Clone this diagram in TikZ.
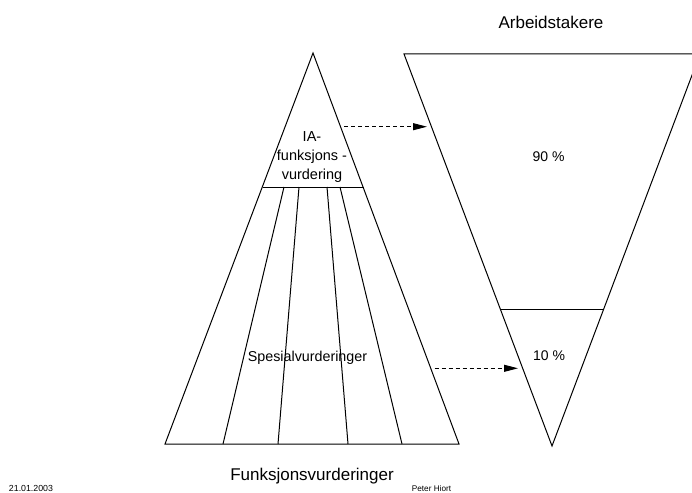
\documentclass[tikz,border=0pt]{standalone}
\usepackage{fontspec}
\setmainfont{Liberation Sans}
\usetikzlibrary{arrows.meta}
\begin{document}
\begin{tikzpicture}[x=1pt,y=-1pt,
  shape line/.style={line width=1pt, line join=miter},
  flow/.style={line width=0.9pt, dash pattern=on 4pt off 3pt, -{Triangle[length=14pt,width=7pt]}},
  lbl/.style={inner sep=0pt, anchor=base},
]
\useasboundingbox (0,0) rectangle (692,492);
\clip (0,0) rectangle (692,492);
% left pyramid
\coordinate (apex) at (313,53);
\coordinate (bl) at (165,444);
\coordinate (br) at (459,444);
\coordinate (ml) at (262.5,187);
\coordinate (mr) at (363.5,187);
\draw[shape line] (apex) -- (br) -- (bl) -- cycle;
\draw[shape line] (ml) -- (mr);
\draw[shape line] (284,187) -- (223,444);
\draw[shape line] (299,187) -- (278,444);
\draw[shape line] (327,187) -- (348,444);
\draw[shape line] (340,187) -- (402,444);
% right inverted triangle
\coordinate (tl) at (404,54);
\coordinate (tr) at (700,54);
\coordinate (bot) at (552,446);
\draw[shape line] (tl) -- (tr) -- (bot) -- cycle;
\draw[shape line] (500.5,309.5) -- (603.5,309.5);
% texts
\node[lbl, font=\fontsize{14.5}{19}\selectfont, align=center] (ia) at (312,179) {IA-\\funksjons -\\vurdering};
\node[lbl, font=\fontsize{14.3}{17}\selectfont] (spes) at (307.5,361) {Spesialvurderinger};
\node[lbl, font=\fontsize{14}{17}\selectfont] (p90) at (548.5,161.5) {90 \%};
\node[lbl, font=\fontsize{14}{17}\selectfont] (p10) at (549,360.5) {10 \%};
\node[lbl, font=\fontsize{17}{20}\selectfont] (arb) at (551,29) {Arbeidstakere};
\node[lbl, font=\fontsize{17}{20}\selectfont] (funk) at (312,480.5) {Funksjonsvurderinger};
\node[lbl, font=\fontsize{8.8}{10}\selectfont] (date) at (31,491.5) {21.01.2003};
\node[lbl, font=\fontsize{8.2}{10}\selectfont] (auth) at (431.5,491.5) {Peter Hiort};
% arrows
\coordinate (a1s) at (344,126.7);
\coordinate (a1e) at (427,126.7);
\coordinate (a2s) at (434.5,368.3);
\coordinate (a2e) at (518,368.3);
\draw[flow] (a1s) -- (a1e);
\draw[flow] (a2s) -- (a2e);
\end{tikzpicture}
\end{document}
